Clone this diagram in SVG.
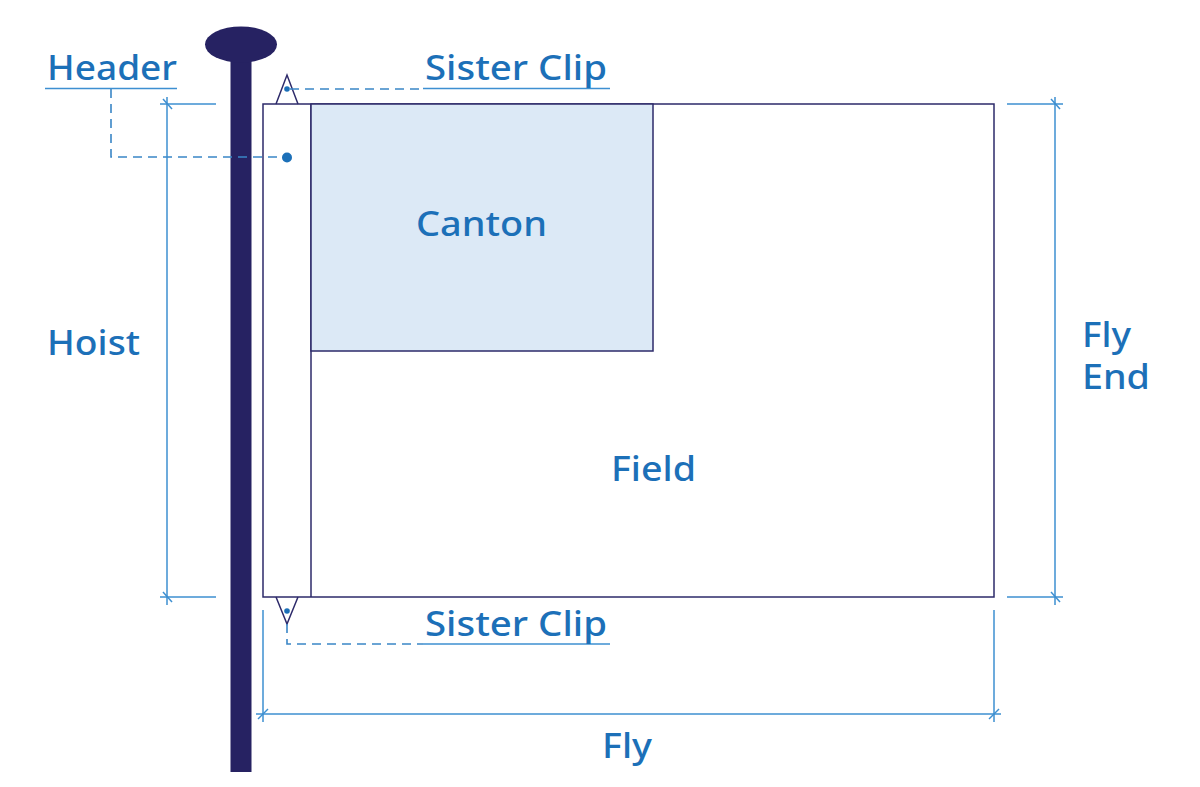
<svg xmlns="http://www.w3.org/2000/svg" width="1200" height="787" viewBox="0 0 1200 787">
<style>
.lbl{font-family:"Noto Sans","Liberation Sans",sans-serif;font-size:34px;fill:#1c70b8;font-weight:500}
.flag{stroke:#2d2a6a;stroke-width:1.5}
.dim{fill:none;stroke:#3d8fd1;stroke-width:1.5}
.dash{fill:none;stroke:#3a86c6;stroke-width:1.6;stroke-dasharray:9 6}
.ul{stroke:#3d8fd1;stroke-width:1.5}
.dot{fill:#1c70b8}
</style>
<rect width="1200" height="787" fill="#fff"/>
<g id="pole">
<rect x="230.5" y="50" width="21" height="722" fill="#262262"/>
<ellipse cx="241" cy="44.5" rx="36" ry="18" fill="#262262"/>
</g>
<g id="flag">
<rect x="263" y="104" width="731" height="493" fill="#fff" class="flag"/>
<line x1="311" y1="104" x2="311" y2="597" class="flag"/>
</g>
<g id="canton">
<rect x="311" y="104" width="342" height="247" fill="#dce9f6" class="flag"/>
<text x="416" y="236" class="lbl" textLength="131" lengthAdjust="spacingAndGlyphs">Canton</text>
</g>
<g id="field">
<text x="611" y="481" class="lbl" textLength="85" lengthAdjust="spacingAndGlyphs">Field</text>
</g>
<g id="sister-clip-top">
<path d="M276,104 L287,75 L298,104" class="flag" fill="none"/>
<circle cx="287" cy="89" r="2.8" class="dot"/>
</g>
<g id="sister-clip-bottom">
<path d="M276,597 L287,624 L298,597" class="flag" fill="none"/>
<circle cx="287" cy="611" r="2.8" class="dot"/>
</g>
<g id="connectors">
<path d="M290,89 H423" class="dash"/>
<line x1="423" y1="88.5" x2="610" y2="88.5" class="ul"/>
<path d="M287,624 V644 H423" class="dash"/>
<line x1="423" y1="644" x2="610" y2="644" class="ul"/>
<line x1="45" y1="88.5" x2="177" y2="88.5" class="ul"/>
<path d="M111,89 V157 H282" class="dash"/>
<circle cx="287" cy="157.5" r="5" class="dot"/>
<g class="dim">
<line x1="160" y1="104" x2="216" y2="104"/>
<line x1="160" y1="597" x2="216" y2="597"/>
<line x1="167" y1="97" x2="167" y2="605"/>
<line x1="163" y1="99" x2="172" y2="109"/>
<line x1="163" y1="592" x2="172" y2="602"/>
<line x1="1007" y1="104" x2="1063" y2="104"/>
<line x1="1007" y1="597" x2="1063" y2="597"/>
<line x1="1055" y1="97" x2="1055" y2="605"/>
<line x1="1051" y1="99" x2="1060" y2="109"/>
<line x1="1051" y1="592" x2="1060" y2="602"/>
<line x1="263" y1="610" x2="263" y2="722"/>
<line x1="994" y1="610" x2="994" y2="722"/>
<line x1="256" y1="714" x2="1001" y2="714"/>
<line x1="258" y1="719" x2="268" y2="709"/>
<line x1="989" y1="719" x2="999" y2="709"/>
</g>
</g>
<g id="labels">
<text x="47" y="80" class="lbl" textLength="130" lengthAdjust="spacingAndGlyphs">Header</text>
<text x="425" y="80" class="lbl" textLength="182" lengthAdjust="spacingAndGlyphs">Sister Clip</text>
<text x="425" y="636" class="lbl" textLength="182" lengthAdjust="spacingAndGlyphs">Sister Clip</text>
<text x="47" y="355" class="lbl" textLength="93" lengthAdjust="spacingAndGlyphs">Hoist</text>
<text x="1082" y="347" class="lbl" textLength="49" lengthAdjust="spacingAndGlyphs">Fly</text>
<text x="1082" y="389" class="lbl" textLength="68" lengthAdjust="spacingAndGlyphs">End</text>
<text x="602" y="758" class="lbl" textLength="50" lengthAdjust="spacingAndGlyphs">Fly</text>
</g>
</svg>
